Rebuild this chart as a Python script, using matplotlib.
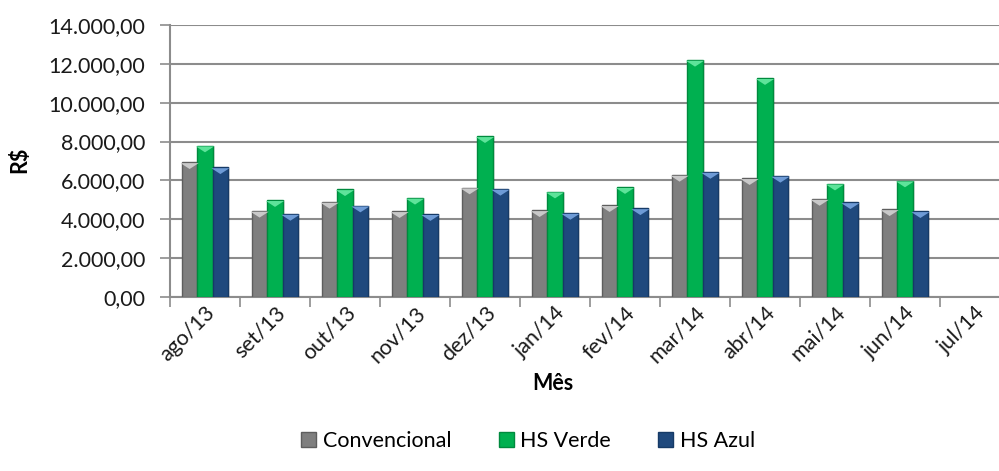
import numpy as np
import matplotlib.pyplot as plt
from matplotlib.patches import Patch

# Monthly cost (R$) per tariff type
meses = ['ago/13', 'set/13', 'out/13', 'nov/13', 'dez/13', 'jan/14',
         'fev/14', 'mar/14', 'abr/14', 'mai/14', 'jun/14', 'jul/14']
convencional = [6930, 4430, 4890, 4410, 5630, 4460, 4720, 6280, 6110, 5040, 4510, np.nan]
hs_verde = [7790, 4980, 5540, 5100, 8270, 5420, 5650, 12200, 11260, 5830, 5990, np.nan]
hs_azul = [6670, 4270, 4700, 4260, 5560, 4320, 4560, 6430, 6230, 4870, 4410, np.nan]

series = [
    ('Convencional', convencional, '#7f7f7f', '#5e5e5e', '#c9c9c9'),
    ('HS Verde', hs_verde, '#00b050', '#008a3e', '#5ee39a'),
    ('HS Azul', hs_azul, '#1f497d', '#163a66', '#6e9bd6'),
]

plt.rcParams['font.family'] = ['Lato', 'DejaVu Sans']
fs = 15.5

fig = plt.figure(figsize=(9.99, 4.71), dpi=100)
ax = fig.add_axes([170 / 999, 174 / 471, 840 / 999, 272 / 471])

x = np.arange(len(meses))
w = 0.22
grid_c = '#8c8c8c'
# flat triangle hanging from the top edge of a bar
bisel = [(-1, 0), (1, 0), (0, -0.65), (-1, 0)]

for i, (nome, vals, cor, borda, topo) in enumerate(series):
    pos = x + (i - 1) * w
    v = np.array(vals, dtype=float)
    # soft shadow on the right of each bar
    ax.bar(pos + 0.03, v, w, color='#000000', alpha=0.10, zorder=2)
    ax.bar(pos, v, w, color=cor, edgecolor=borda, linewidth=1.0, zorder=3)
    ok = ~np.isnan(v)
    ax.scatter(pos[ok], v[ok] - 40, marker=bisel, s=170, color=topo,
               edgecolors='none', zorder=4)

ax.set_xlim(-0.5, len(meses) - 0.5)
ax.set_ylim(0, 14000)
ax.set_yticks(np.arange(0, 14001, 2000))
ax.set_yticklabels([f'{int(t):,}'.replace(',', '.') + ',00' for t in ax.get_yticks()],
                   fontsize=fs, color='#1a1a1a')

ax.set_xticks(x)
ax.set_xticklabels(meses, rotation=45, ha='right', rotation_mode='anchor',
                   fontsize=fs, color='#1a1a1a')
ax.tick_params(axis='x', length=0, pad=4)
ax.set_xticks(np.arange(-0.5, len(meses), 1), minor=True)
ax.tick_params(axis='x', which='minor', length=7, width=1.2, color=grid_c)
ax.tick_params(axis='y', length=7, width=1.2, color=grid_c, pad=11)

ax.yaxis.grid(True, color=grid_c, linewidth=1.5)
ax.set_axisbelow(True)
for s in ['top', 'right']:
    ax.spines[s].set_visible(False)
for s in ['left', 'bottom']:
    ax.spines[s].set_color(grid_c)
    ax.spines[s].set_linewidth(1.5)

fig.text(20 / 999, 1 - 160 / 471, 'R$', rotation=90, ha='center', va='center',
         fontsize=fs, fontweight='bold')
fig.text(553 / 999, 1 - 384 / 471, 'Mês', ha='center', va='center',
         fontsize=fs, fontweight='bold')

handles = [Patch(facecolor=c, edgecolor=b, label=n) for n, _, c, b, _ in series]
fig.legend(handles=handles, loc='center', bbox_to_anchor=(528 / 999, 1 - 441 / 471),
           ncol=3, frameon=False, fontsize=fs, handlelength=0.7, handleheight=0.7,
           handletextpad=0.3, columnspacing=2.2)

fig.savefig('out.png', dpi=100)
